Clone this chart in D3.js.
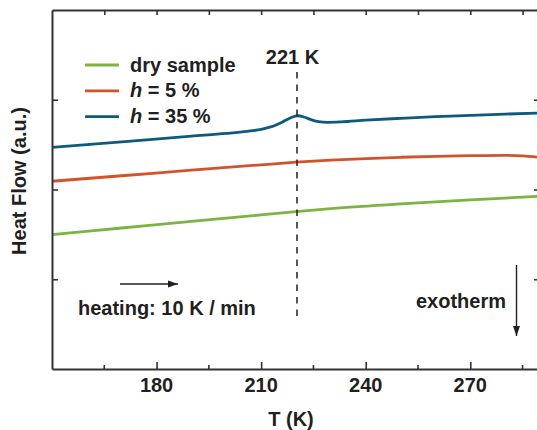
<!DOCTYPE html>
<html>
<head>
<meta charset="utf-8">
<script src="https://cdn.jsdelivr.net/npm/d3@7"></script>
<style>
  body { margin: 0; background: #fff; }
  text { font-family: "Liberation Sans", Arial, sans-serif; font-weight: bold; fill: #231f20; }
</style>
</head>
<body>
<svg width="537" height="430"></svg>
<script>
// temperatures (K) and heat flow (a.u.)
const dryT = [150, 170, 190, 210, 220, 230, 250, 270, 290];
const dryV = [1.497, 1.571, 1.645, 1.718, 1.754, 1.787, 1.840, 1.885, 1.924];

const h5T = [150, 170, 190, 210, 220, 230, 240, 250, 260, 270, 280, 285, 290];
const h5V = [2.092, 2.153, 2.215, 2.275, 2.304, 2.327, 2.345, 2.359, 2.370, 2.377, 2.381, 2.375, 2.358];

const h35T = [150, 170, 190, 200, 206, 210, 213, 216, 218.5, 220.5, 222.5, 224.5, 226.5, 229, 233, 240, 250, 260, 270, 280, 290];
const h35V = [2.47, 2.53, 2.595, 2.625, 2.648, 2.67, 2.70, 2.75, 2.80, 2.822, 2.805, 2.775, 2.755, 2.748, 2.753, 2.772, 2.793, 2.811, 2.826, 2.84, 2.852];

const seriesNames = ['dry sample', '5 %', '35 %'];
const colors = ['#7cb342', '#d4522a', '#0e5a7e'];

const xMajor = [180, 210, 240, 270];
const xMinor = [165, 195, 225, 255, 285];
const yTicks = [1, 2, 3];
const peakT = 221;

const svg = d3.select('svg')
const margin = { top: 10, right: -3, bottom: 61, left: 52 }
const width = +svg.attr('width')
const height = +svg.attr('height')
const innerWidth = width - margin.left - margin.right
const innerHeight = height - margin.top - margin.bottom

const x = d3.scaleLinear().domain([150, 290]).range([0, innerWidth])
const y = d3.scaleLinear().domain([0, 4]).range([innerHeight, 0])

const g = svg.append('g').attr('transform', `translate(${margin.left},${margin.top})`)

// curves
const series = [
  dryT.map((t, i) => [t, dryV[i]]),
  h5T.map((t, i) => [t, h5V[i]]),
  h35T.map((t, i) => [t, h35V[i]])
]
const line = d3.line().x(d => x(d[0])).y(d => y(d[1])).curve(d3.curveMonotoneX)
series.forEach((s, i) => {
  g.append('path').datum(s)
    .attr('fill', 'none')
    .attr('stroke', colors[i])
    .attr('stroke-width', 2.8)
    .attr('d', line)
})

// axes
const styleAxis = sel => {
  sel.selectAll('.domain').attr('stroke', '#333').attr('stroke-width', 2)
  sel.selectAll('.tick line').attr('stroke', '#333').attr('stroke-width', 1.6)
  sel.selectAll('text').remove()
}
const bottomAxis = g.append('g').attr('transform', `translate(0,${innerHeight})`)
bottomAxis.call(d3.axisBottom(x).tickValues(xMajor).tickSizeInner(-7).tickSizeOuter(0))
bottomAxis.call(styleAxis)
bottomAxis.selectAll('.minor').data(xMinor).enter().append('line')
  .attr('x1', d => x(d)).attr('x2', d => x(d)).attr('y1', 0).attr('y2', -4)
  .attr('stroke', '#333').attr('stroke-width', 1.6)
bottomAxis.selectAll('.lbl').data(xMajor).enter().append('text')
  .attr('x', d => x(d)).attr('y', 23).attr('text-anchor', 'middle')
  .style('font-size', '20px').text(d => d)

const topAxis = g.append('g')
topAxis.call(d3.axisTop(x).tickValues(xMajor.concat(xMinor)).tickSizeInner(-5).tickSizeOuter(0))
topAxis.call(styleAxis)

const leftAxis = g.append('g')
leftAxis.call(d3.axisLeft(y).tickValues(yTicks).tickSizeInner(-6).tickSizeOuter(0))
leftAxis.call(styleAxis)

const rightAxis = g.append('g').attr('transform', `translate(${innerWidth},0)`)
rightAxis.call(d3.axisRight(y).tickValues(yTicks).tickSizeInner(-6).tickSizeOuter(0))
rightAxis.call(styleAxis)

// axis titles
svg.append('text').attr('x', 291).attr('y', 426).attr('text-anchor', 'middle')
  .style('font-size', '20px').text('T (K)')
svg.append('text').attr('transform', 'translate(26,181) rotate(-90)').attr('text-anchor', 'middle')
  .style('font-size', '20px').text('Heat Flow (a.u.)')

// legend
const legend = g.append('g')
seriesNames.forEach((name, i) => {
  const ly = 55 + i * 25.8
  legend.append('line').attr('x1', 33).attr('x2', 67).attr('y1', ly).attr('y2', ly)
    .attr('stroke', colors[i]).attr('stroke-width', 2.8)
  const t = legend.append('text').attr('x', 78).attr('y', ly + 6.5).style('font-size', '20px')
  if (i === 0) {
    t.text(name)
  } else {
    t.append('tspan').style('font-style', 'italic').text('h')
    t.append('tspan').text(' = ' + name)
  }
})

// peak marker
g.append('line').attr('x1', x(peakT) - 2.5).attr('x2', x(peakT) - 2.5).attr('y1', 62).attr('y2', 311)
  .attr('stroke', '#231f20').attr('stroke-width', 1.5).attr('stroke-dasharray', '6.5,6')
g.append('text').attr('x', x(peakT) - 7).attr('y', 54).attr('text-anchor', 'middle')
  .style('font-size', '20px').text(peakT + ' K')

// arrows
const defs = svg.append('defs')
defs.append('marker').attr('id', 'arr').attr('viewBox', '0 0 10 10')
  .attr('refX', 10).attr('refY', 5).attr('markerWidth', 10).attr('markerHeight', 10)
  .attr('markerUnits', 'userSpaceOnUse').attr('orient', 'auto')
  .append('path').attr('d', 'M0,1.5L10,5L0,8.5Z').attr('fill', '#231f20')

svg.append('line').attr('x1', 120).attr('x2', 178).attr('y1', 284).attr('y2', 284)
  .attr('stroke', '#231f20').attr('stroke-width', 1.4).attr('marker-end', 'url(#arr)')
svg.append('text').attr('x', 78).attr('y', 315).style('font-size', '20px').text('heating: 10 K / min')

svg.append('line').attr('x1', 516.5).attr('x2', 516.5).attr('y1', 265).attr('y2', 336)
  .attr('stroke', '#231f20').attr('stroke-width', 1.4).attr('marker-end', 'url(#arr)')
svg.append('text').attr('x', 416).attr('y', 308).style('font-size', '20px').text('exotherm')
</script>
</body>
</html>
